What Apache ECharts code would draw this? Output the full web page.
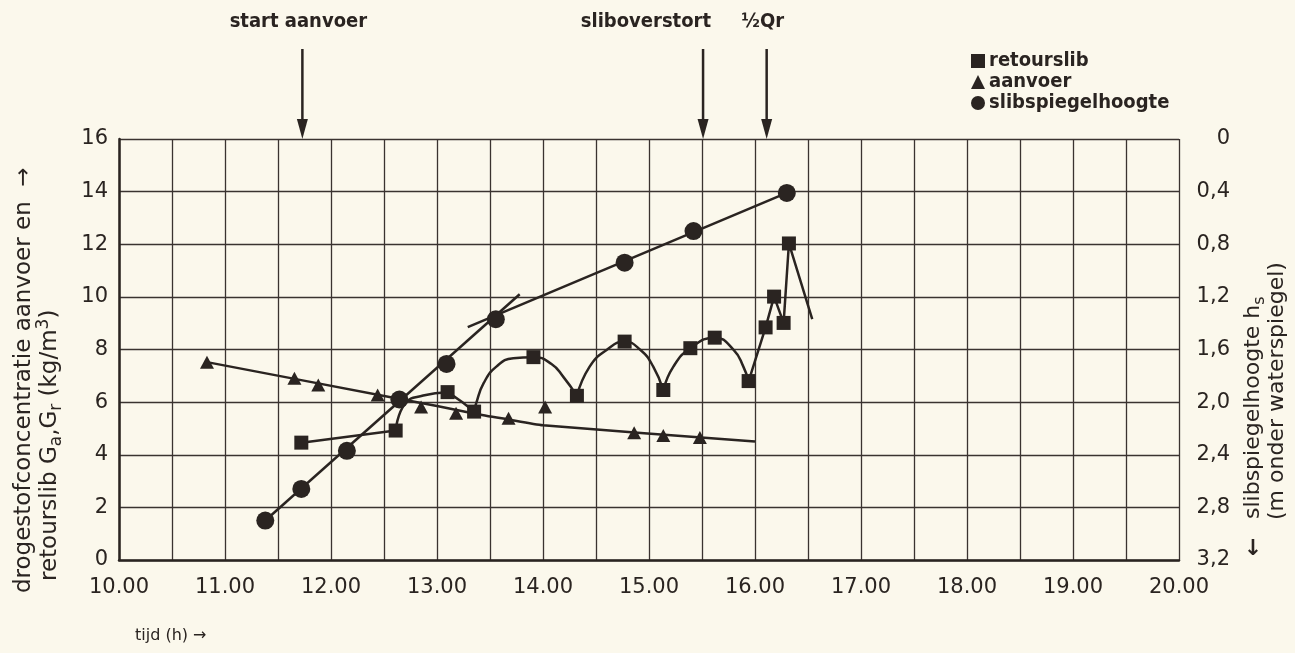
<!DOCTYPE html>
<html>
<head>
<meta charset="utf-8">
<script src="https://cdn.jsdelivr.net/npm/echarts@6/dist/echarts.min.js"></script>
<style>
  html, body { margin: 0; padding: 0; background: #fbf8ec; }
  #chart { width: 1295px; height: 653px; }
</style>
</head>
<body>
<div id="chart"></div>
<script>
// tijd (h) en waarden
var retourslib = [[11.72, 4.46], [12.61, 4.92], [13.10, 6.38], [13.35, 5.64], [13.91, 7.71], [14.32, 6.24],
  [14.77, 8.30], [15.135, 6.46], [15.39, 8.05], [15.62, 8.45], [15.94, 6.80], [16.10, 8.84],
  [16.18, 10.01], [16.27, 9.01], [16.32, 12.03]];
var aanvoer = [[10.83, 7.52], [11.655, 6.91], [11.88, 6.65], [12.44, 6.27], [12.85, 5.81], [13.18, 5.58],
  [13.675, 5.39], [14.02, 5.81], [14.86, 4.84], [15.135, 4.73], [15.48, 4.66]];
// slibspiegelhoogte in m onder waterspiegel (rechter as)
var slibspiegel = [[11.38, 2.90], [11.72, 2.66], [12.15, 2.37], [12.645, 1.98], [13.09, 1.71],
  [13.555, 1.37], [14.77, 0.94], [15.42, 0.70], [16.30, 0.41]];

// getekende verbindingslijnen
var retourLijn1 = [[11.72, 4.46], [12.61, 4.92]];
var retourLijn2 = [[12.61, 4.92], [12.70, 5.95], [12.87, 6.25], [13.10, 6.38]];
var retourLijn3 = [[13.10, 6.38], [13.22, 6.05], [13.35, 5.64]];
var retourBoog1 = [[13.35, 5.64], [13.37, 5.96], [13.44, 6.72], [13.56, 7.35], [13.72, 7.67], [13.91, 7.71],
  [14.08, 7.45], [14.19, 6.97], [14.32, 6.24]];
var retourBoog2 = [[14.32, 6.24], [14.44, 7.35], [14.60, 7.98], [14.77, 8.30], [14.92, 7.98], [15.04, 7.35], [15.135, 6.46]];
var retourBoog3 = [[15.135, 6.46], [15.23, 7.35], [15.39, 8.05], [15.62, 8.45], [15.80, 7.98], [15.89, 7.35], [15.94, 6.80]];
var retourLijn4 = [[15.94, 6.80], [16.10, 8.84], [16.18, 10.01], [16.27, 9.01], [16.32, 12.03], [16.54, 9.15]];
var aanvoerLijn = [[10.83, 7.52], [12.65, 6.12], [13.0, 5.85], [13.37, 5.55], [13.66, 5.35], [14.0, 5.12], [16.0, 4.5]];
var slibLijn1 = [[11.38, 2.90], [13.78, 1.18]];
var slibLijn2 = [[13.29, 1.43], [16.30, 0.41]];

// gebeurtenissen (pijlen boven de grafiek)
var gebeurtenisTijd = [11.73, 15.51, 16.11];
var gebeurtenisTekst = ['start aanvoer', 'sliboverstort', '½Qr'];
var gebeurtenisAlign = ['center', 'right', 'center'];

var ink = '#2a2421';
var chart = echarts.init(document.getElementById('chart'));

function lijn(data, yIdx, smooth) {
  return {
    type: 'line', data: data, yAxisIndex: yIdx || 0, smooth: smooth || false,
    showSymbol: false, silent: true, z: 3,
    lineStyle: { color: ink, width: 2.5 }
  };
}

var option = {
  backgroundColor: '#fbf8ec',
  animation: false,
  grid: { left: 119, right: 116, top: 139, bottom: 93 },
  legend: {
    data: ['retourslib', 'aanvoer', 'slibspiegelhoogte'],
    orient: 'vertical', left: 966, top: 46,
    itemWidth: 14, itemHeight: 14, itemGap: 1,
    textStyle: { color: ink, fontSize: 20, fontWeight: 'bold', fontFamily: 'DejaVu Sans Condensed, DejaVu Sans, sans-serif', padding: [0, 0, 0, -1] }
  },
  xAxis: {
    type: 'value', min: 10, max: 20, interval: 0.5,
    axisLine: { lineStyle: { color: ink, width: 2.5 } },
    axisTick: { show: false },
    axisLabel: {
      color: ink, fontSize: 21, margin: 17, fontFamily: 'DejaVu Sans, sans-serif',
      formatter: function (v) { return Math.abs(v % 1) < 1e-6 ? v.toFixed(2) : ''; }
    },
    splitLine: { lineStyle: { color: '#3a3330', width: 1.3 } }
  },
  yAxis: [{
    type: 'value', min: 0, max: 16, interval: 2,
    axisLine: { show: true, lineStyle: { color: ink, width: 2.5 } },
    axisTick: { show: false },
    axisLabel: { color: ink, fontSize: 21, margin: 11, fontFamily: 'DejaVu Sans, sans-serif' },
    splitLine: { lineStyle: { color: '#3a3330', width: 1.3 } }
  }, {
    type: 'value', min: 0, max: 3.2, interval: 0.4, inverse: true, position: 'right',
    axisLine: { show: false },
    axisTick: { show: false },
    splitLine: { show: false },
    axisLabel: {
      color: ink, fontSize: 21, margin: 51, align: 'right', fontFamily: 'DejaVu Sans, sans-serif',
      formatter: function (v) { return v === 0 ? '0' : v.toFixed(1).replace('.', ','); }
    }
  }],
  series: [
    lijn(retourLijn1), lijn(retourLijn2, 0, 0.5), lijn(retourLijn3, 0, 0.3),
    lijn(retourBoog1, 0, 0.5), lijn(retourBoog2, 0, 0.5), lijn(retourBoog3, 0, 0.5), lijn(retourLijn4),
    lijn(aanvoerLijn, 0, 0.2),
    lijn(slibLijn1, 1), lijn(slibLijn2, 1),
    { name: 'retourslib', type: 'scatter', data: retourslib, symbol: 'rect', symbolSize: 14, z: 5,
      itemStyle: { color: ink, opacity: 1 } },
    { name: 'aanvoer', type: 'scatter', data: aanvoer, symbol: 'triangle', symbolSize: [14, 13], z: 5,
      itemStyle: { color: ink, opacity: 1 } },
    { name: 'slibspiegelhoogte', type: 'scatter', data: slibspiegel, yAxisIndex: 1, symbol: 'circle', symbolSize: 18, z: 5,
      itemStyle: { color: ink, opacity: 1 } }
  ]
};
chart.setOption(option);

// pijlen en teksten boven de grafiek, x via de as
var titelFont = 'DejaVu Sans, sans-serif';
var graphics = [];
gebeurtenisTijd.forEach(function (t, i) {
  var x = chart.convertToPixel({ xAxisIndex: 0 }, t);
  graphics.push({ type: 'line', shape: { x1: x, y1: 49, x2: x, y2: 124 }, style: { stroke: ink, lineWidth: 2.5 } });
  graphics.push({ type: 'polygon', shape: { points: [[x - 5.5, 119], [x + 5.5, 119], [x, 139]] }, style: { fill: ink } });
  graphics.push({ type: 'text', x: gebeurtenisAlign[i] === 'right' ? x + 8 : x - 4, y: 22,
    style: { text: gebeurtenisTekst[i], fill: ink, fontSize: 20, fontFamily: 'DejaVu Sans Condensed, DejaVu Sans, sans-serif',
      fontWeight: 'bold', align: gebeurtenisAlign[i], verticalAlign: 'middle' } });
});
// linker astitel
graphics.push({ type: 'text', x: 24, y: 593, rotation: Math.PI / 2,
  style: { text: 'drogestofconcentratie aanvoer en  \u2192', fill: ink, fontSize: 23, fontFamily: titelFont,
    align: 'left', verticalAlign: 'middle' } });
graphics.push({ type: 'text', x: 50, y: 581, rotation: Math.PI / 2,
  style: { text: '{a|retourslib G}{s|a}{a|,G}{s|r}{a| (kg/m}{p|3}{a|)}', fill: ink, align: 'left', verticalAlign: 'middle',
    rich: {
      a: { fontSize: 23, fontFamily: titelFont, lineHeight: 30, fill: ink, verticalAlign: 'middle' },
      s: { fontSize: 17, fontFamily: titelFont, lineHeight: 30, fill: ink, verticalAlign: 'bottom' },
      p: { fontSize: 17, fontFamily: titelFont, lineHeight: 30, fill: ink, verticalAlign: 'top' }
    } } });
// rechter astitel
graphics.push({ type: 'text', x: 1253, y: 519, rotation: Math.PI / 2,
  style: { text: '{a|slibspiegelhoogte h}{s|s}', fill: ink, align: 'left', verticalAlign: 'middle',
    rich: {
      a: { fontSize: 22, fontFamily: titelFont, lineHeight: 30, fill: ink, verticalAlign: 'middle' },
      s: { fontSize: 16, fontFamily: titelFont, lineHeight: 30, fill: ink, verticalAlign: 'bottom' }
    } } });
graphics.push({ type: 'text', x: 1277, y: 520, rotation: Math.PI / 2,
  style: { text: '(m onder waterspiegel)', fill: ink, fontSize: 22, fontFamily: titelFont, align: 'left', verticalAlign: 'middle' } });
graphics.push({ type: 'text', x: 1253, y: 549,
  style: { text: '\u2193', fill: ink, fontSize: 22, fontFamily: titelFont, align: 'center', verticalAlign: 'middle', fontWeight: 'bold' } });
// x-as titel
graphics.push({ type: 'text', x: 135, y: 636,
  style: { text: 'tijd (h) \u2192', fill: ink, fontSize: 16, fontFamily: titelFont, align: 'left', verticalAlign: 'middle' } });

chart.setOption({ graphic: graphics });
</script>
</body>
</html>
